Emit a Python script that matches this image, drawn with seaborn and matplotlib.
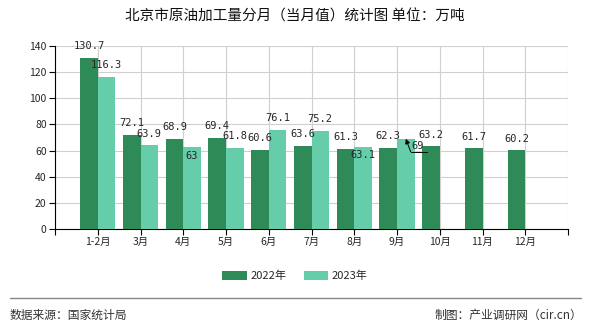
import matplotlib
matplotlib.use("Agg")
import matplotlib.pyplot as plt
import seaborn as sns
import pandas as pd
import numpy as np
from matplotlib.lines import Line2D
from matplotlib.patches import Patch

categories = ["1-2月", "3月", "4月", "5月", "6月", "7月", "8月", "9月", "10月", "11月", "12月"]
v2022 = [130.7, 72.1, 68.9, 69.4, 60.6, 63.6, 61.3, 62.3, 63.2, 61.7, 60.2]
v2023 = [116.3, 63.9, 63, 61.8, 76.1, 75.2, 63.1, 69, np.nan, np.nan, np.nan]
series = ["2022年", "2023年"]
colors = ["#2E8B57", "#66CDAA"]
yticks = [0, 20, 40, 60, 80, 100, 120, 140]

sns.set_theme(style="white")
plt.rcParams['font.family'] = ['Noto Sans CJK SC', 'DejaVu Sans']

df = pd.DataFrame({
    "month": categories * 2,
    "value": v2022 + v2023,
    "year": [series[0]] * len(categories) + [series[1]] * len(categories),
})

fig = plt.figure(figsize=(5.9, 3.3), dpi=100)
ax = fig.add_axes([55/590, 101/330, 513/590, 183/330])

sns.barplot(data=df, x="month", y="value", hue="year", palette=colors,
            order=categories, hue_order=series, width=0.82, dodge=True,
            saturation=1, ax=ax, legend=False, zorder=3, linewidth=0, edgecolor="none")

ax.set_xlim(-1, len(categories))
ax.set_ylim(0, 140)
ax.set_yticks(yticks)
ax.set_xticks(range(-1, len(categories) + 1))
ax.set_xticklabels([""] + categories + [""], fontsize=7.5)
ax.tick_params(axis='y', labelsize=7.5, length=4, width=0.8, color="black", left=True, pad=2)
ax.tick_params(axis='x', length=4, width=0.8, color="black", bottom=True, pad=2)
ax.set_xlabel("")
ax.set_ylabel("")
ax.grid(True, color="#d0d0d0", linewidth=0.8, zorder=0)
for s in ["top", "right"]:
    ax.spines[s].set_visible(False)
for s in ["left", "bottom"]:
    ax.spines[s].set_color("black")
    ax.spines[s].set_linewidth(0.8)

# data labels
special = {(1, 2): -6.5, (1, 6): -6}
mono = "DejaVu Sans Mono"
for si, (cont, vals) in enumerate(zip(ax.containers, [v2022, v2023])):
    for ci, (bar, v) in enumerate(zip(cont, vals)):
        if np.isnan(v):
            continue
        lab = f"{v:g}"
        cx = bar.get_x() + bar.get_width() / 2
        top = bar.get_height()
        if si == 1 and ci == 7:
            # label with leader line and arrow
            ax.annotate(lab, xy=(cx, top), xytext=(8.5, -5.5), textcoords="offset points",
                        ha="center", va="center", fontsize=7.5, fontfamily=mono, zorder=5)
            ax.annotate("", xy=(cx, top), xytext=(3.6, -9.4), textcoords="offset points",
                        arrowprops=dict(arrowstyle="-|>", color="black", lw=0.7,
                                        shrinkA=0, shrinkB=0, mutation_scale=7), zorder=5)
            ax.annotate("", xy=(cx, top), xycoords="data",
                        xytext=(3.6, -9.4), textcoords="offset points",
                        arrowprops=dict(arrowstyle="-", alpha=0), zorder=5)
            p0 = ax.transData.transform((cx, top))
            a = ax.transData.inverted().transform(p0 + np.array([3.6, -9.4]) / 0.72)
            b = ax.transData.inverted().transform(p0 + np.array([15.5, -9.4]) / 0.72)
            ax.plot([a[0], b[0]], [a[1], b[1]], color="black", lw=0.7, zorder=5)
            continue
        off = special.get((si, ci), 8.5)
        ax.annotate(lab, xy=(cx, top), xytext=(0, off), textcoords="offset points",
                    ha="center", va="center", fontsize=7.5, fontfamily=mono, zorder=5)

fig.text(0.5, 1 - 17/330, "北京市原油加工量分月（当月值）统计图 单位：万吨",
         ha="center", va="center", fontsize=10.5, color="#111111")

handles = [Patch(facecolor=c, edgecolor="none") for c in colors]
fig.legend(handles, series, loc="center", bbox_to_anchor=(0.5, 1 - 276/330), ncol=2,
           frameon=False, fontsize=8, handlelength=2.2, handleheight=0.9,
           handletextpad=0.3, columnspacing=1.6)

fig.add_artist(Line2D([10/590, 581/590], [1 - 298/330, 1 - 298/330],
                      color="#888888", linewidth=1.0))
fig.text(10/590, 1 - 315/330, "数据来源：国家统计局", ha="left", va="center",
         fontsize=8.5, color="#333333")
fig.text(582/590, 1 - 315/330, "制图：产业调研网（cir.cn）", ha="right", va="center",
         fontsize=8.5, color="#333333")

fig.savefig("out.png", dpi=100)
